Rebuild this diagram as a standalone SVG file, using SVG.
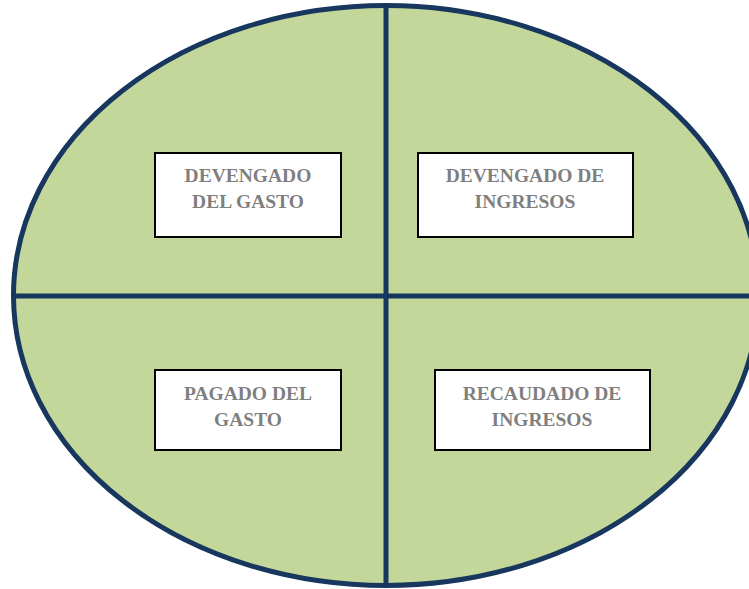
<svg xmlns="http://www.w3.org/2000/svg" width="749" height="589" viewBox="0 0 749 589">
<style>
.box{fill:#ffffff;stroke:#000000;stroke-width:2}
.lbl{font-family:"Liberation Serif","Times New Roman",serif;font-weight:bold;font-size:19.5px;fill:#7f7f7f;text-anchor:middle}
.div{stroke:#17375e;stroke-width:5;fill:none}
</style>
<rect x="0" y="0" width="749" height="589" fill="#ffffff"/>
<g id="oval">
<ellipse cx="386" cy="295.5" rx="372.5" ry="290" fill="#c4d79b" stroke="#17375e" stroke-width="5"/>
</g>
<g id="connectors">
<line class="div" x1="386" y1="5" x2="386" y2="586"/>
<line class="div" x1="13" y1="296" x2="749" y2="296"/>
</g>
<g id="devengado-gasto">
<rect class="box" x="155" y="153" width="186" height="84"/>
<text class="lbl" x="248" y="182">DEVENGADO</text>
<text class="lbl" x="248" y="208">DEL GASTO</text>
</g>
<g id="devengado-ingresos">
<rect class="box" x="418" y="153" width="215" height="84"/>
<text class="lbl" x="525" y="182">DEVENGADO DE</text>
<text class="lbl" x="525" y="208">INGRESOS</text>
</g>
<g id="pagado-gasto">
<rect class="box" x="155" y="370" width="186" height="80"/>
<text class="lbl" x="248" y="400">PAGADO DEL</text>
<text class="lbl" x="248" y="426">GASTO</text>
</g>
<g id="recaudado-ingresos">
<rect class="box" x="435" y="370" width="215" height="80"/>
<text class="lbl" x="542" y="400">RECAUDADO DE</text>
<text class="lbl" x="542" y="426">INGRESOS</text>
</g>
</svg>
